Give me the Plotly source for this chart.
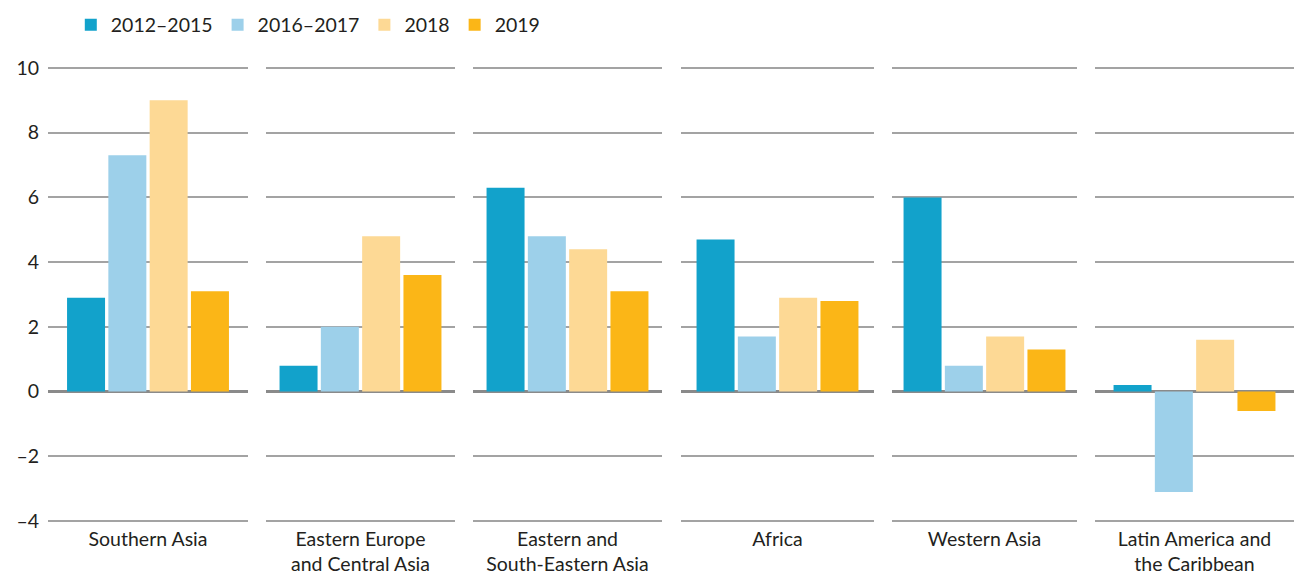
import plotly.graph_objects as go

regions = ["Southern Asia", "Eastern Europe<br>and Central Asia", "Eastern and<br>South-Eastern Asia",
           "Africa", "Western Asia", "Latin America and<br>the Caribbean"]
series = ["2012–2015", "2016–2017", "2018", "2019"]
v_2012_2015 = [2.9, 0.8, 6.3, 4.7, 6.0, 0.2]
v_2016_2017 = [7.3, 2.0, 4.8, 1.7, 0.8, -3.1]
v_2018 = [9.0, 4.8, 4.4, 2.9, 1.7, 1.6]
v_2019 = [3.1, 3.6, 3.1, 2.8, 1.3, -0.6]
values = [v_2012_2015, v_2016_2017, v_2018, v_2019]
colors = ["#12a2cb", "#9dd0ea", "#fdd995", "#fbb617"]
y_ticks = [-4, -2, 0, 2, 4, 6, 8, 10]
y_ticktext = ["–4", "–2", "0", "2", "4", "6", "8", "10"]

FONT = "Lato, 'Noto Sans', sans-serif"
TXT = "#231f20"
W, H = 1301, 578
L, R, T, B = 40, 15, 58, 63
PW = W - L - R
PH = H - T - B

# panel extents in plot-area pixels (layout)
panels_px = [(0, 200), (218, 407), (425, 614), (633, 826), (844, 1029), (1047, 1246)]
BAR_PX, PITCH_PX = 38, 41.3

fig = go.Figure()
for i, reg in enumerate(regions):
    ax = "x" if i == 0 else f"x{i+1}"
    p0, p1 = panels_px[i]
    dpx = p1 - p0
    span = 3 * PITCH_PX + BAR_PX
    for s, name in enumerate(series):
        fig.add_trace(go.Bar(
            x=[reg], y=[values[s][i]], name=name, marker_color=colors[s],
            marker_line_width=0, xaxis=ax, yaxis="y",
            width=BAR_PX / dpx, offset=(-span / 2 + s * PITCH_PX) / dpx,
            legendgroup=name, showlegend=(i == 0)))
    key = "xaxis" if i == 0 else f"xaxis{i+1}"
    fig.layout[key] = dict(domain=[p0 / PW, p1 / PW], anchor="y", range=[-0.5, 0.5],
                           showgrid=False, showline=False, ticks="", zeroline=False,
                           automargin=False, ticklabelstandoff=2,
                           tickfont=dict(family=FONT, size=19.5, color=TXT))

fig.update_layout(
    width=W, height=H, barmode="overlay",
    plot_bgcolor="white", paper_bgcolor="white",
    margin=dict(l=L, r=R, t=T, b=B, autoexpand=False),
    yaxis=dict(range=[-4.06, 10.06], tickvals=y_ticks, ticktext=y_ticktext,
               showgrid=True, gridcolor="#a3a3a3", gridwidth=1.5,
               zeroline=True, zerolinecolor="#8a8a8a", zerolinewidth=3,
               ticks="", ticklabelstandoff=8, automargin=False,
               tickfont=dict(family=FONT, size=19.5, color=TXT)),
    legend=dict(orientation="h", xref="container", x=62.8 / W, xanchor="left",
                yref="paper", y=1 + (T + 2.5) / PH, yanchor="top",
                font=dict(family=FONT, size=19.5, color=TXT),
                itemsizing="constant", traceorder="normal"),
)
fig.write_html("out.html")
